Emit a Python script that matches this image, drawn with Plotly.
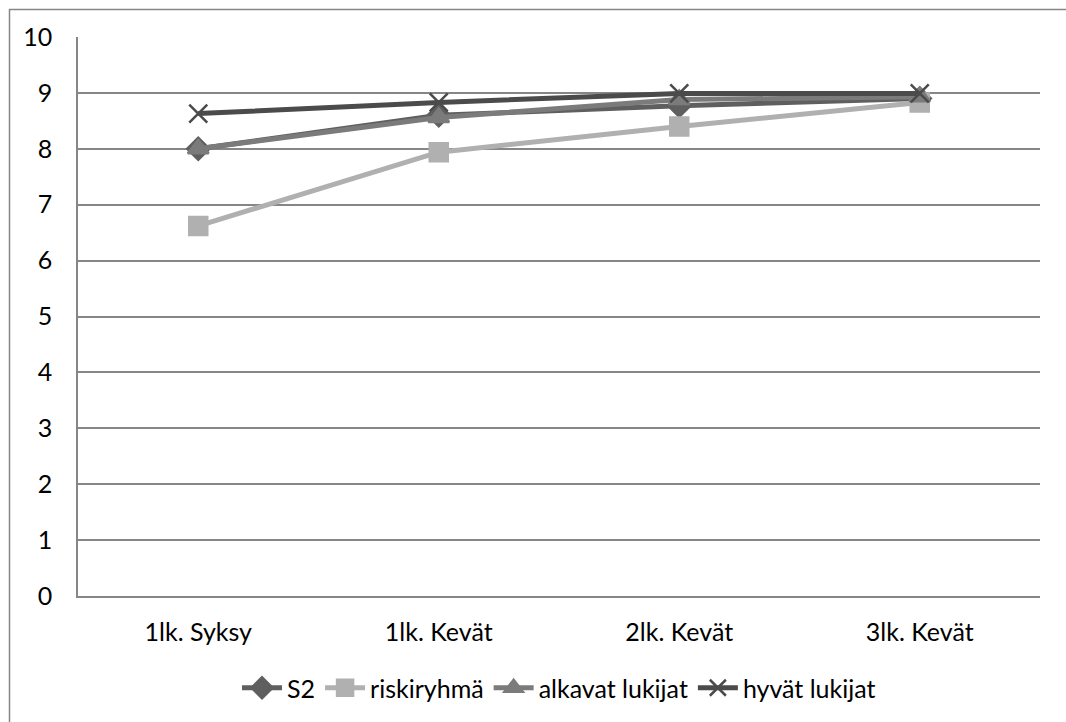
import plotly.graph_objects as go

categories = ["1lk. Syksy", "1lk. Kevät", "2lk. Kevät", "3lk. Kevät"]
s2 = [8.0, 8.6, 8.77, 8.9]
riskiryhma = [6.62, 7.94, 8.4, 8.83]
alkavat = [8.0, 8.56, 8.88, 8.93]
hyvat = [8.63, 8.83, 8.99, 8.99]
y_ticks = list(range(0, 11))

series = [
    ("S2", s2, "#5f5f5f", "diamond", 17),
    ("riskiryhmä", riskiryhma, "#b0b0b0", "square", 18),
    ("alkavat lukijat", alkavat, "#7b7b7b", "triangle-up", 18),
    ("hyvät lukijat", hyvat, "#4b4b4b", "x-thin", 18),
]

fig = go.Figure()
for name, vals, color, sym, size in series:
    fig.add_trace(go.Scatter(
        x=categories, y=vals, name=name, mode="lines+markers",
        line=dict(color=color, width=5),
        marker=dict(symbol=sym, size=size, color=color,
                    line=dict(color=color, width=2.5)),
    ))

fig.update_layout(
    width=1066, height=722,
    margin=dict(l=78, r=26, t=37, b=125),
    paper_bgcolor="white", plot_bgcolor="white",
    font=dict(family="Lato, Open Sans, sans-serif", size=25, color="#000000"),
    showlegend=True,
    legend=dict(orientation="h", x=0.5, xanchor="center", y=-0.1625, yanchor="middle",
                font=dict(size=25), itemwidth=40, tracegroupgap=0),
    xaxis=dict(
        type="category", range=[-0.5, 3.5], showgrid=False,
        showline=True, linecolor="#868686", linewidth=1.5,
        ticks="", ticklabelstandoff=13,
    ),
    yaxis=dict(
        range=[0, 10], tickvals=y_ticks, showgrid=True,
        gridcolor="#868686", gridwidth=1.5, zeroline=False,
        showline=True, linecolor="#868686", linewidth=1.5,
        ticks="", ticklabelstandoff=19,
    ),
    shapes=[dict(
        type="rect", xref="paper", yref="paper",
        x0=(9.5 - 78) / 962, x1=(1075 - 78) / 962,
        y0=(597 - 735) / 560, y1=(597 - 9.5) / 560,
        line=dict(color="#868686", width=1.5), fillcolor="rgba(0,0,0,0)", layer="below",
    )],
)

fig.write_html("out.html")
